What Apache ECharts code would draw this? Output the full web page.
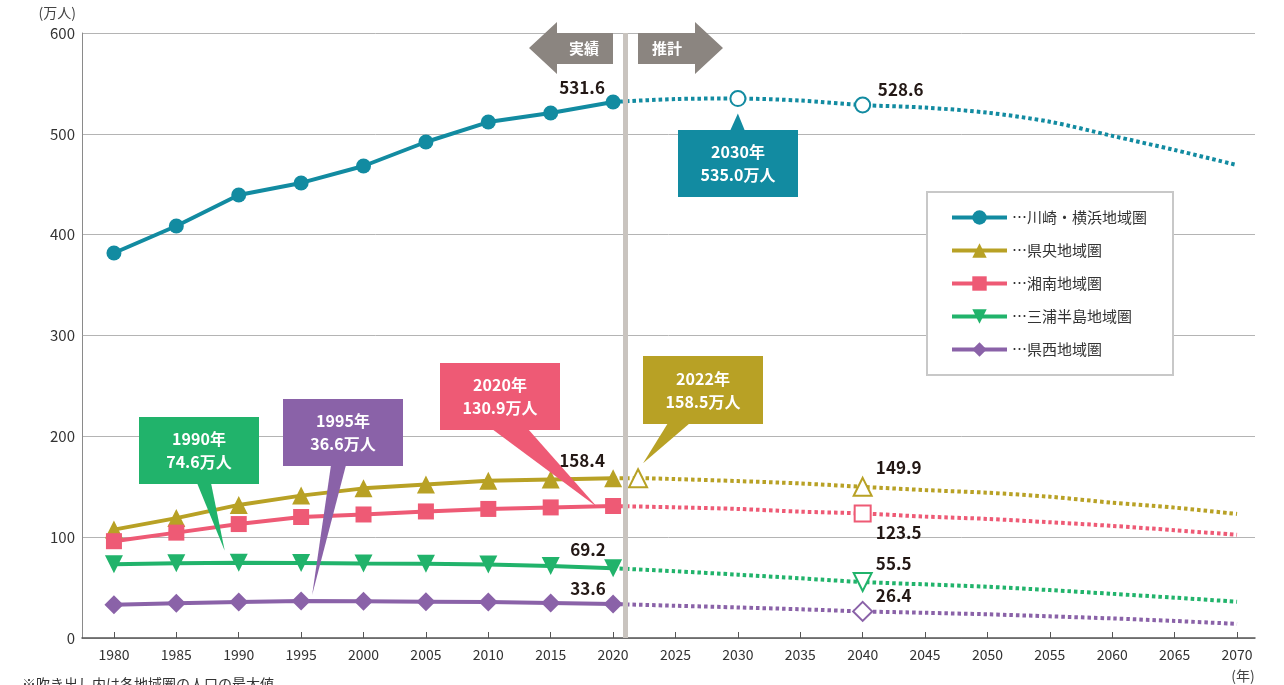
<!DOCTYPE html>
<html>
<head>
<meta charset="utf-8">
<script src="https://cdn.jsdelivr.net/npm/echarts@6.0.0/dist/echarts.min.js"></script>
<style>
  html, body { margin: 0; padding: 0; background: #fff; }
  #chart { width: 1284px; height: 685px; }
</style>
</head>
<body>
<div id="chart"></div>
<script>
// 軸
const tickYears = [1980, 1985, 1990, 1995, 2000, 2005, 2010, 2015, 2020, 2025, 2030, 2035, 2040, 2045, 2050, 2055, 2060, 2065, 2070];
const actualYears = [1980, 1985, 1990, 1995, 2000, 2005, 2010, 2015, 2020];
const projYears = [2020, 2025, 2030, 2035, 2040, 2045, 2050, 2055, 2060, 2065, 2070];
const kenouProjYears = [2020, 2022, 2025, 2030, 2035, 2040, 2045, 2050, 2055, 2060, 2065, 2070];

// 実績（万人）
const kawasakiActual = [381.8, 408.6, 439.4, 451.3, 468.1, 491.9, 511.7, 520.7, 531.6];
const kenouActual = [107.5, 118.9, 132.0, 141.2, 148.4, 152.3, 155.9, 157.2, 158.4];
const shonanActual = [96.0, 104.5, 113.0, 120.0, 122.5, 125.5, 128.0, 129.5, 130.9];
const miuraActual = [73.2, 74.2, 74.6, 74.4, 73.8, 73.6, 73.0, 71.5, 69.2];
const kenseiActual = [33.0, 34.5, 35.8, 36.6, 36.4, 36.0, 35.6, 34.8, 33.6];

// 推計（万人）
const kawasakiProj = [531.6, 534.5, 535.0, 533.0, 528.6, 526.0, 521.0, 512.0, 498.0, 484.0, 469.0];
const kenouProj = [158.4, 158.5, 157.6, 155.6, 153.3, 149.9, 146.7, 144.1, 140.1, 134.2, 129.3, 123.0];
const shonanProj = [130.9, 129.6, 128.0, 125.3, 123.5, 120.4, 118.1, 114.8, 111.2, 106.9, 102.3];
const miuraProj = [69.2, 66.2, 62.8, 59.2, 55.5, 53.2, 50.8, 47.5, 43.8, 40.0, 36.0];
const kenseiProj = [33.6, 32.0, 30.3, 28.5, 26.4, 25.0, 23.5, 21.5, 19.4, 16.9, 14.0];

const FONT = '"Noto Sans CJK JP", "Noto Sans", sans-serif';

// 地域圏ごとの描画設定
const regions = [
  {
    name: '川崎・横浜地域圏', color: '#128ba1', symbol: 'circle', hollow: 'emptyCircle', size: 15, rotate: 0,
    actual: kawasakiActual, pYears: projYears, proj: kawasakiProj, hollowYears: [2030, 2040],
    labelActual: [-31, -14], labelProj: { year: 2040, offset: [38, -15] },
    callout: { box: [678, 130, 120, 67], edge: 'top', base: [730, 745], tip: [0, 15] }
  },
  {
    name: '県央地域圏', color: '#b8a125', symbol: 'triangle', hollow: 'emptyTriangle', size: 18, rotate: 0,
    actual: kenouActual, pYears: kenouProjYears, proj: kenouProj, hollowYears: [2022, 2040],
    labelActual: [-31, -18], labelProj: { year: 2040, offset: [36, -19] },
    callout: { box: [643, 356, 120, 68], edge: 'bottom', base: [668, 690], tip: [5, -15] }
  },
  {
    name: '湘南地域圏', color: '#ee5a75', symbol: 'rect', hollow: 'emptyRect', size: 16, rotate: 0,
    actual: shonanActual, pYears: projYears, proj: shonanProj, hollowYears: [2040],
    labelActual: null, labelProj: { year: 2040, offset: [36, 19] },
    callout: { box: [440, 363, 120, 67], edge: 'bottom', base: [492, 528], tip: [-16, 1] }
  },
  {
    name: '三浦半島地域圏', color: '#21b36b', symbol: 'triangle', hollow: 'emptyTriangle', size: 18, rotate: 180,
    actual: miuraActual, pYears: projYears, proj: miuraProj, hollowYears: [2040],
    labelActual: [-25, -19], labelProj: { year: 2040, offset: [31, -18] },
    callout: { box: [139, 417, 120, 67], edge: 'bottom', base: [197, 211], tip: [-14, -12] }
  },
  {
    name: '県西地域圏', color: '#8a62a8', symbol: 'diamond', hollow: 'emptyDiamond', size: 19, rotate: 0,
    actual: kenseiActual, pYears: projYears, proj: kenseiProj, hollowYears: [2040],
    labelActual: [-25, -16], labelProj: { year: 2040, offset: [31, -16] },
    callout: { box: [283, 399, 120, 67], edge: 'bottom', base: [331, 346], tip: [11, -6] }
  }
];

const valueLabel = {
  show: true,
  position: 'inside',
  color: '#231815',
  fontFamily: FONT,
  fontWeight: 'bold',
  fontSize: 17
};

const series = [];

// 推計（点線）
regions.forEach((r, i) => {
  const s = {
    name: r.name + '（推計）',
    type: 'line',
    z: 2,
    smooth: 0.3,
    symbol: r.hollow,
    symbolSize: r.size,
    symbolRotate: r.rotate,
    showSymbol: true,
    lineStyle: { color: r.color, width: 4, type: [3.5, 3], cap: 'butt' },
    itemStyle: { color: r.color, borderColor: r.color, borderWidth: 2 },
    data: r.pYears.map((y, k) => {
      const item = { value: [y, r.proj[k]] };
      if (r.hollowYears.indexOf(y) < 0) item.symbol = 'none';
      if (r.labelProj && r.labelProj.year === y) {
        item.label = Object.assign({}, valueLabel, { offset: r.labelProj.offset });
      }
      return item;
    })
  };
  if (i === 0) {
    s.markLine = {
      silent: true,
      symbol: 'none',
      label: { show: false },
      lineStyle: { color: '#c9c4bf', width: 5, type: 'solid' },
      data: [{ xAxis: 2021 }]
    };
  }
  series.push(s);
});

// 実績（実線）
regions.forEach((r) => {
  series.push({
    name: r.name,
    type: 'line',
    z: 3,
    symbol: r.symbol,
    symbolSize: r.size,
    symbolRotate: r.rotate,
    lineStyle: { color: r.color, width: 4 },
    itemStyle: { color: r.color },
    data: actualYears.map((y, k) => {
      const item = { value: [y, r.actual[k]] };
      if (r.labelActual && k === actualYears.length - 1) {
        item.label = Object.assign({}, valueLabel, { offset: r.labelActual });
      }
      return item;
    })
  });
});

const chart = echarts.init(document.getElementById('chart'));

chart.setOption({
  animation: false,
  backgroundColor: '#ffffff',
  textStyle: { fontFamily: FONT },
  grid: { left: 82, right: 29, top: 33, bottom: 47 },
  xAxis: {
    type: 'value',
    min: 1977.44,
    max: 2071.44,
    axisLine: { show: true, lineStyle: { color: '#555', width: 1.5 } },
    axisTick: { show: true, inside: true, length: 6, customValues: tickYears, lineStyle: { color: '#555' } },
    axisLabel: { customValues: tickYears, formatter: v => String(v), color: '#333', fontSize: 14, margin: 10, fontFamily: FONT },
    splitLine: { show: false }
  },
  yAxis: {
    type: 'value',
    min: 0,
    max: 600,
    interval: 100,
    name: '(万人)',
    nameLocation: 'end',
    nameGap: 13,
    nameTextStyle: { align: 'right', color: '#444', fontSize: 14, padding: [0, 6, 0, 0] },
    axisLine: { show: true, lineStyle: { color: '#8a8a8a', width: 1 } },
    axisTick: { show: false },
    axisLabel: { color: '#333', fontSize: 15, margin: 7, fontFamily: FONT },
    splitLine: { lineStyle: { color: '#b4b4b4', width: 1 } }
  },
  legend: {
    data: regions.map(r => r.name),
    orient: 'vertical',
    left: 927,
    top: 192,
    itemWidth: 55,
    itemHeight: 18,
    itemGap: 18,
    padding: [18, 26, 18, 23],
    backgroundColor: '#fff',
    borderColor: '#c8c8c8',
    borderWidth: 2,
    borderRadius: 0,
    lineStyle: { width: 4 },
    formatter: name => '…' + name,
    textStyle: { color: '#333', fontSize: 15, fontFamily: FONT }
  },
  series: series
});

// 吹き出し・矢印などの注記
const graphics = [];
const arrowColor = '#8b8580';
graphics.push({
  type: 'polygon', z: 50,
  shape: { points: [[529, 48], [557, 22], [557, 33], [613, 33], [613, 64], [557, 64], [557, 74]] },
  style: { fill: arrowColor }
});
graphics.push({
  type: 'polygon', z: 50,
  shape: { points: [[723, 48], [695, 22], [695, 33], [638, 33], [638, 64], [695, 64], [695, 74]] },
  style: { fill: arrowColor }
});
graphics.push({
  type: 'text', z: 51, x: 584, y: 48,
  style: { text: '実績', fill: '#fff', font: 'bold 15px ' + FONT, textAlign: 'center', textVerticalAlign: 'middle' }
});
graphics.push({
  type: 'text', z: 51, x: 667, y: 48,
  style: { text: '推計', fill: '#fff', font: 'bold 15px ' + FONT, textAlign: 'center', textVerticalAlign: 'middle' }
});

regions.forEach((r) => {
  // 最大値
  const allYears = actualYears.concat(r.pYears.slice(1));
  const allVals = r.actual.concat(r.proj.slice(1));
  let mi = 0;
  allVals.forEach((v, k) => { if (v > allVals[mi]) mi = k; });
  const peakYear = allYears[mi];
  const peakVal = allVals[mi];
  const p = chart.convertToPixel({ gridIndex: 0 }, [peakYear, peakVal]);
  const c = r.callout;
  const [bx, by, bw, bh] = c.box;
  const edgeY = c.edge === 'top' ? by + 1 : by + bh - 1;
  graphics.push({
    type: 'polygon', z: 60,
    shape: { points: [[c.base[0], edgeY], [c.base[1], edgeY], [p[0] + c.tip[0], p[1] + c.tip[1]]] },
    style: { fill: r.color }
  });
  graphics.push({
    type: 'rect', z: 60,
    shape: { x: bx, y: by, width: bw, height: bh },
    style: { fill: r.color }
  });
  graphics.push({
    type: 'text', z: 61, x: bx + bw / 2, y: by + bh / 2,
    style: {
      text: peakYear + '年\n' + peakVal.toFixed(1) + '万人',
      fill: '#fff',
      font: 'bold 16px ' + FONT,
      lineHeight: 23,
      textAlign: 'center',
      textVerticalAlign: 'middle'
    }
  });
});

graphics.push({
  type: 'text', z: 50, x: 1243, y: 676,
  style: { text: '(年)', fill: '#444', font: '14px ' + FONT, textAlign: 'center', textVerticalAlign: 'middle' }
});
graphics.push({
  type: 'text', z: 50, x: 22, y: 684,
  style: { text: '※吹き出し内は各地域圏の人口の最大値', fill: '#333', font: '14px ' + FONT, textAlign: 'left', textVerticalAlign: 'middle' }
});

chart.setOption({ graphic: graphics });
</script>
</body>
</html>
